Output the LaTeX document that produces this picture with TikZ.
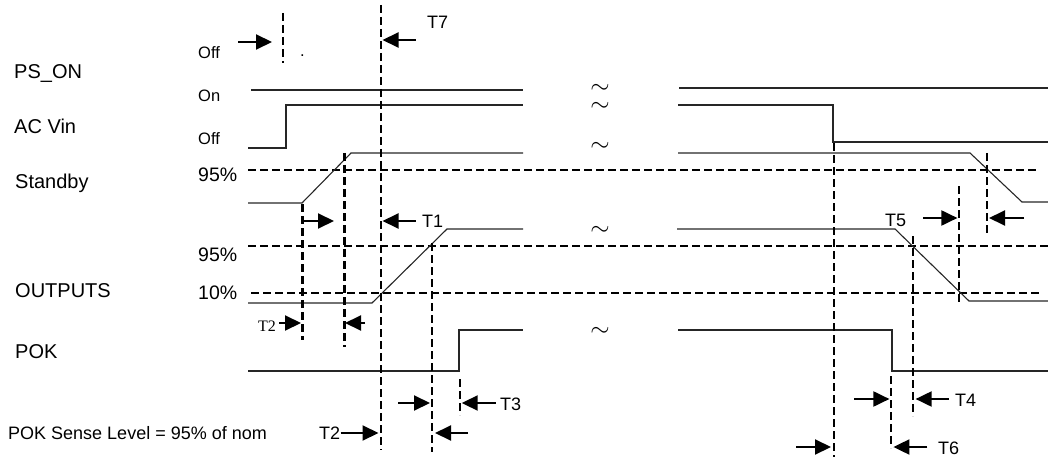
\documentclass[tikz,border=0pt]{standalone}
\usepackage{fontspec}
\setmainfont{Liberation Sans}
\newfontfamily\timesfont{Liberation Serif}
\usetikzlibrary{arrows.meta,calc}

\tikzset{
  sig/.style={line width=1.1pt,black!85},
  level/.style={line width=1.7pt,dash pattern=on 8pt off 4pt},
  vline/.style={line width=2pt,dash pattern=on 8pt off 4pt},
  vthick/.style={vline,line width=3pt},
  dimarr/.style={->,line width=2pt},
  lbl/.style={anchor=base west,inner sep=0pt,font=\fontsize{20}{22}\selectfont},
  state/.style={anchor=base west,inner sep=0pt,font=\fontsize{16.5}{18}\selectfont},
  pct/.style={anchor=base west,inner sep=0pt,font=\fontsize{19.5}{21}\selectfont},
  tlbl/.style={anchor=base west,inner sep=0pt,font=\fontsize{18}{20}\selectfont},
  brk/.style={inner sep=0pt,font=\fontsize{29}{17}\selectfont},
}

\begin{document}
\begin{tikzpicture}[x=1pt,y=-1pt,>={Triangle[length=16pt,width=15pt]}]
  \useasboundingbox (0,0) rectangle (1048,457);
  % signal names
  \node[lbl] (pson) at (14,79) {PS\_ON};
  \node[lbl] (acvin) at (14,134) {AC Vin};
  \node[lbl] (stby) at (15,188) {Standby};
  \node[lbl] (outs) at (15,297) {OUTPUTS};
  \node[lbl] (pok) at (15,358) {POK};
  \node[lbl,font=\fontsize{18}{20}\selectfont] (sense) at (8,439) {POK Sense Level = 95\% of nom};
  % states and levels
  \node[state] (off1) at (198,59) {Off};
  \node[state] (on) at (198,102) {On};
  \node[state] (off2) at (198,145) {Off};
  \node[state] (dot) at (300,57) {.};
  \node[pct] (sb95) at (198,181) {95\%};
  \node[pct] (out95) at (198,261) {95\%};
  \node[pct] (out10) at (198,299.5) {10\%};
  \draw[level] (248,170) -- (1038,170);
  \draw[level] (248,246) -- (1048,246);
  \draw[level] (251,293) -- (1042,293);
  % waveforms
  \draw[sig] (251,90) -- (523,90);
  \draw[sig] (679,88) -- (1048,88);
  \draw[sig] (248,148) -- (286,148) -- (286,105) -- (523,105);
  \draw[sig] (678,105) -- (833,105) -- (833,142) -- (1048,142);
  \draw[sig] (248,203) -- (302,203) -- (351,153) -- (523,153);
  \draw[sig] (678,153) -- (970,153) -- (1022,202) -- (1048,202);
  \draw[sig] (248,303) -- (372,303) -- (447,229) -- (523,229);
  \draw[sig] (677,229) -- (895,229) -- (969,301) -- (1048,301);
  \draw[sig] (248,371) -- (459,371) -- (459,330) -- (523,330);
  \draw[sig] (678,330) -- (892,330) -- (892,371) -- (1048,371);
  % breaks
  \node[brk] (br1) at (600,89) {$\sim$};
  \node[brk] (br2) at (600,107) {$\sim$};
  \node[brk] (br3) at (600,147) {$\sim$};
  \node[brk] (br4) at (600,231) {$\sim$};
  \node[brk] (br5) at (600,332) {$\sim$};
  % timing marks
  \coordinate (v0) at (283,0);
  \coordinate (v7) at (380.5,0);
  \coordinate (vs) at (302,0);
  \coordinate (vb) at (344,0);
  \coordinate (vo) at (432,0);
  \coordinate (vp) at (459.7,0);
  \coordinate (vac) at (834,0);
  \coordinate (vpk) at (891.4,0);
  \coordinate (vof) at (912.6,0);
  \coordinate (vlo) at (959.4,0);
  \coordinate (vsb) at (987,0);
  \draw[vline] ($(v0)+(0,13)$) -- ($(v0)+(0,63)$);
  \draw[vline] ($(v7)+(0,5)$) -- ($(v7)+(0,450)$);
  \draw[vthick] ($(vs)+(0,204)$) -- ($(vs)+(0,340)$);
  \draw[vthick] ($(vb)+(0,153)$) -- ($(vb)+(0,347)$);
  \draw[vline] ($(vo)+(0,243)$) -- ($(vo)+(0,452)$);
  \draw[vline] ($(vp)+(0,379)$) -- ($(vp)+(0,415)$);
  \draw[vline] ($(vac)+(0,143)$) -- ($(vac)+(0,457)$);
  \draw[vline] ($(vpk)+(0,376)$) -- ($(vpk)+(0,448)$);
  \draw[vline] ($(vof)+(0,236)$) -- ($(vof)+(0,416)$);
  \draw[vline] ($(vlo)+(0,186)$) -- ($(vlo)+(0,302)$);
  \draw[vline] ($(vsb)+(0,153)$) -- ($(vsb)+(0,236)$);
  % interval arrows
  \draw[dimarr] ($(v0)+(-45,42)$) -- ($(v0)+(-11,42)$);
  \draw[dimarr] ($(v7)+(35,40)$) -- ($(v7)+(2,40)$);
  \draw[dimarr] ($(vs)+(0,221)$) -- ($(vs)+(32,221)$);
  \draw[dimarr] ($(v7)+(35,221)$) -- ($(v7)+(2,221)$);
  \draw[dimarr] ($(vs)+(-23,323)$) -- ($(vs)+(-1,323)$);
  \draw[dimarr] ($(vb)+(21,323)$) -- ($(vb)+(1,323)$);
  \draw[dimarr] ($(vo)+(-34,403)$) -- ($(vo)+(-2,403)$);
  \draw[dimarr] ($(vp)+(36,403)$) -- ($(vp)+(2,403)$);
  \draw[dimarr] ($(v7)+(-40,433)$) -- ($(v7)+(-2,433)$);
  \draw[dimarr] ($(vo)+(36,433)$) -- ($(vo)+(3,433)$);
  \draw[dimarr] ($(vlo)+(-36,218)$) -- ($(vlo)+(-2,218)$);
  \draw[dimarr] ($(vsb)+(37,218)$) -- ($(vsb)+(2,218)$);
  \draw[dimarr] ($(vpk)+(-37,399)$) -- ($(vpk)+(-2,399)$);
  \draw[dimarr] ($(vof)+(36,399)$) -- ($(vof)+(3,399)$);
  \draw[dimarr] ($(vac)+(-38,447)$) -- ($(vac)+(-3,447)$);
  \draw[dimarr] ($(vpk)+(36,447)$) -- ($(vpk)+(2,447)$);
  % interval names
  \node[tlbl] (t7) at (427,29) {T7};
  \node[tlbl] (t1) at (422,227) {T1};
  \node[tlbl,font=\timesfont\fontsize{16}{18}\selectfont] (t2a) at (258,331) {T2};
  \node[tlbl] (t3) at (500,410) {T3};
  \node[tlbl] (t2b) at (319,439) {T2};
  \node[tlbl] (t5) at (885,226) {T5};
  \node[tlbl] (t4) at (955,406) {T4};
  \node[tlbl] (t6) at (938,454) {T6};
\end{tikzpicture}
\end{document}
